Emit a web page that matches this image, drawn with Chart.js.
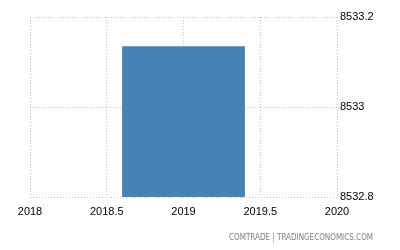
<!DOCTYPE html>
<html>
<head>
<meta charset="utf-8">
<script src="https://cdn.jsdelivr.net/npm/chart.js@4/dist/chart.umd.min.js"></script>
<style>
  html, body { margin: 0; padding: 0; background: #fff; }
  #wrap { position: relative; width: 400px; height: 250px; }
  #footer {
    position: absolute; right: 27px; top: 233px;
    font-family: "DejaVu Sans Condensed", "Liberation Sans Narrow", sans-serif;
    font-size: 8px; color: #7f7f7f; white-space: nowrap;
  }
</style>
</head>
<body>
<div id="wrap">
  <canvas id="chart" width="400" height="250"></canvas>
  <div id="footer">COMTRADE | TRADINGECONOMICS.COM</div>
</div>
<script>
// values
const years = [2019];
const values = [8533.135];
const xTicks = [2018, 2018.5, 2019, 2019.5, 2020];
const yTicks = [8532.8, 8533, 8533.2];

document.addEventListener('DOMContentLoaded', function () {
  const gridStyle = {
    color: '#c8c8c8',
    lineWidth: 1,
    drawTicks: false,
    offset: false
  };
  // in v4 the dash of the grid lines comes from border.dash
  const borderStyle = { display: false, dash: [1, 2] };
  const tickFont = { family: 'Liberation Sans, Arial, sans-serif', size: 11 };

  new Chart(document.getElementById('chart'), {
    type: 'bar',
    data: {
      datasets: [{
        data: years.map((y, i) => ({ x: y, y: values[i] })),
        backgroundColor: '#4682b4',
        borderWidth: 0,
        categoryPercentage: 1,
        barPercentage: 1.6 // bar spans 0.8 year, ticks are 0.5 year apart
      }]
    },
    options: {
      responsive: false,
      animation: false,
      layout: { padding: { left: 30, top: 17, right: 0, bottom: 25 } },
      plugins: { legend: { display: false }, tooltip: { enabled: false } },
      scales: {
        x: {
          type: 'linear',
          offset: false,
          min: 2018,
          max: 2020,
          afterBuildTicks: s => { s.ticks = xTicks.map(v => ({ value: v })); },
          afterFit: s => { s.height = 28; },
          grid: gridStyle,
          border: borderStyle,
          ticks: { padding: 8, color: '#000', font: tickFont, callback: v => String(v), maxRotation: 0 }
        },
        y: {
          position: 'right',
          min: 8532.8,
          max: 8533.2,
          afterBuildTicks: s => { s.ticks = yTicks.map(v => ({ value: v })); },
          afterFit: s => { s.width = 63; },
          grid: gridStyle,
          border: borderStyle,
          ticks: { padding: 3, color: '#000', font: tickFont, callback: v => String(v) }
        }
      }
    }
  });
});
</script>
</body>
</html>
